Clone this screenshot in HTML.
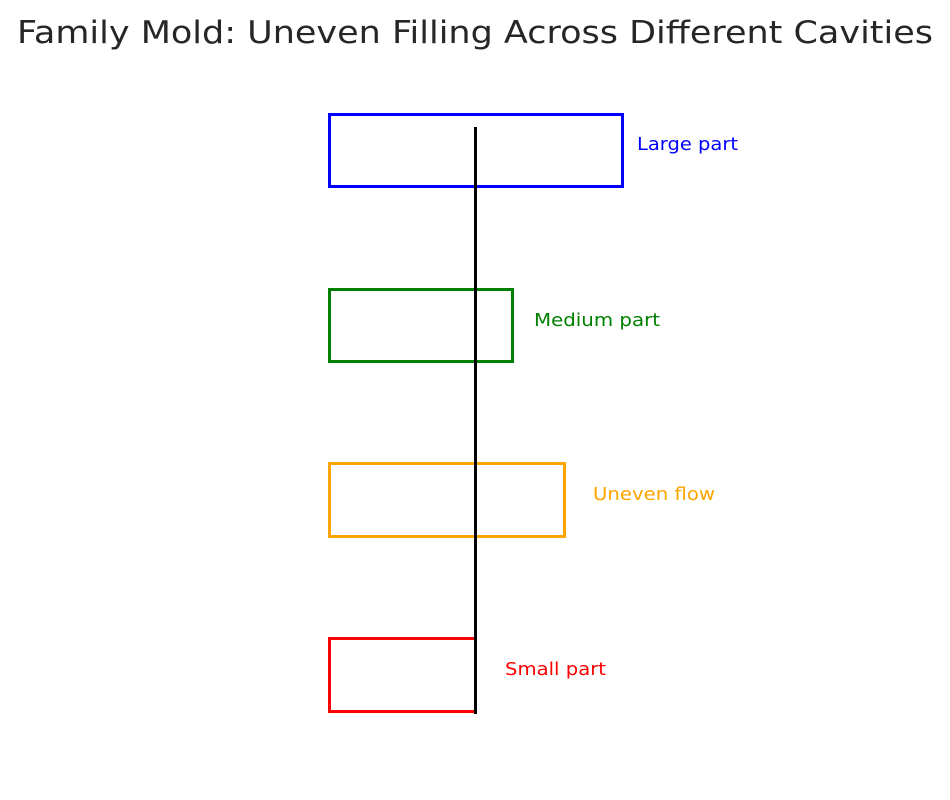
<!DOCTYPE html>
<html>
<head>
<meta charset="utf-8">
<style>
  html, body { margin: 0; padding: 0; background: #ffffff; }
  svg { display: block; }
  text { font-family: "DejaVu Sans", "Liberation Sans", sans-serif; }
</style>
</head>
<body>
<svg width="950" height="800" viewBox="0 0 950 800" xmlns="http://www.w3.org/2000/svg">
  <rect x="0" y="0" width="950" height="800" fill="#ffffff"/>
  <text x="17" y="43" font-size="31" fill="#262626" textLength="916" lengthAdjust="spacingAndGlyphs">Family Mold: Uneven Filling Across Different Cavities</text>

  <rect x="329.5" y="114.5" width="293" height="72" fill="none" stroke="#0000ff" stroke-width="3"/>
  <rect x="329.5" y="289.5" width="183" height="72" fill="none" stroke="#008000" stroke-width="3"/>
  <rect x="329.5" y="463.5" width="235" height="73" fill="none" stroke="#ffa500" stroke-width="3"/>
  <rect x="329.5" y="638.5" width="146" height="73" fill="none" stroke="#ff0000" stroke-width="3"/>

  <line x1="475.5" y1="127" x2="475.5" y2="714" stroke="#000000" stroke-width="3"/>

  <text x="637" y="150" font-size="18" fill="#0000ff" textLength="101" lengthAdjust="spacingAndGlyphs">Large part</text>
  <text x="534" y="326" font-size="18" fill="#008000" textLength="126" lengthAdjust="spacingAndGlyphs">Medium part</text>
  <text x="593" y="500" font-size="18" fill="#ffa500" textLength="122" lengthAdjust="spacingAndGlyphs">Uneven flow</text>
  <text x="505" y="675" font-size="18" fill="#ff0000" textLength="101" lengthAdjust="spacingAndGlyphs">Small part</text>
</svg>
</body>
</html>
